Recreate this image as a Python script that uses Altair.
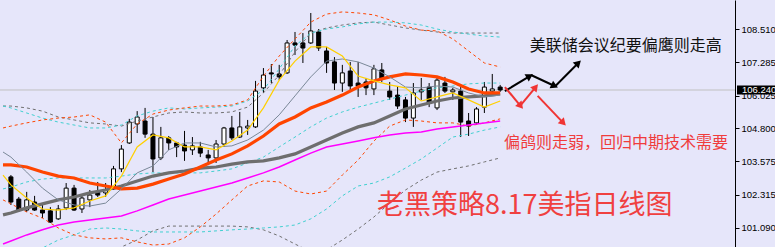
import math
import altair as alt
import pandas as pd

# ---------------- candles ----------------
opens = [102.99, 102.16, 101.75, 102.05, 101.75, 101.72, 101.42, 101.83, 102.57, 101.79,
         102.13, 102.43, 102.39, 102.54, 103.29, 104.26, 104.97, 105.08, 104.59, 103.70,
         104.45, 104.26, 104.18, 104.00, 104.11, 103.81, 103.70, 104.22, 104.82, 104.48,
         104.82, 104.86, 106.32, 106.88, 106.84, 106.88, 108.00, 108.00, 108.00, 108.41,
         107.70, 107.29, 106.50, 106.95, 106.50, 106.54, 106.28, 106.99, 106.20, 106.05,
         105.87, 105.19, 106.17, 106.35, 105.57, 106.50, 106.17, 106.20, 105.08, 105.01,
         105.60, 106.20, 106.35]
highs = [103.06, 102.24, 102.43, 102.28, 102.01, 101.86, 101.94, 102.76, 102.69, 102.28,
         102.50, 102.80, 102.76, 103.40, 104.18, 105.16, 105.45, 105.57, 105.23, 104.86,
         104.52, 104.30, 104.71, 104.48, 104.30, 104.00, 104.37, 104.86, 105.27, 105.42,
         105.12, 106.58, 107.06, 107.21, 107.18, 108.11, 108.41, 108.37, 109.12, 108.52,
         107.85, 107.47, 107.18, 107.29, 107.29, 106.69, 107.18, 107.25, 106.54, 106.39,
         105.98, 106.50, 106.69, 106.50, 106.73, 106.73, 106.32, 106.35, 105.38, 105.60,
         106.54, 106.84, 106.43]
lows = [101.94, 101.68, 101.68, 101.72, 101.45, 101.27, 101.38, 101.75, 101.72, 101.64,
        101.86, 102.24, 102.24, 102.50, 103.17, 104.22, 104.63, 104.45, 103.17, 103.62,
        104.00, 103.73, 103.59, 103.81, 103.73, 103.43, 103.51, 104.11, 104.37, 104.45,
        104.56, 104.82, 106.13, 106.50, 106.61, 106.84, 107.55, 107.25, 107.96, 107.70,
        106.88, 106.24, 106.17, 106.17, 105.98, 106.05, 106.05, 106.54, 105.87, 105.53,
        105.04, 104.86, 105.87, 105.60, 105.49, 106.13, 105.87, 104.48, 104.52, 104.93,
        105.38, 106.13, 106.17]
closes = [102.05, 101.75, 102.13, 101.75, 101.64, 101.30, 101.79, 102.57, 101.75, 102.20,
          102.31, 102.31, 102.50, 103.29, 104.03, 105.04, 105.23, 104.59, 103.66, 104.45,
          104.26, 104.11, 103.96, 104.15, 103.88, 103.70, 104.22, 104.82, 104.45, 104.86,
          104.89, 106.20, 106.80, 106.84, 106.73, 108.00, 107.92, 107.81, 108.45, 107.81,
          107.25, 106.50, 106.88, 106.39, 106.39, 106.32, 107.03, 106.65, 105.98, 105.64,
          105.19, 106.13, 106.24, 105.75, 106.61, 106.20, 106.24, 105.04, 104.89, 105.53,
          106.35, 106.28, 106.24]
bars = list(range(len(opens)))

# ---------------- indicator lines, read at every second bar ----------------
line_bars = [-1] + list(range(0, 63, 2))

ma5 = [103.06, 102.69, 102.20, 101.79, 101.75, 101.83, 102.09, 102.28, 103.02, 104.11,
       104.56, 104.45, 104.11, 104.11, 104.00, 104.33, 104.74, 105.57, 106.61, 107.32,
       107.85, 107.85, 107.51, 106.76, 106.58, 106.43, 106.32, 105.83, 105.98, 106.13,
       105.87, 105.60, 105.83]
ma10 = [103.92, 103.73, 103.17, 102.57, 102.13, 101.94, 101.90, 102.01, 102.54, 103.14,
        103.40, 104.00, 104.26, 104.26, 104.11, 104.15, 104.37, 104.74, 105.31, 106.02,
        106.73, 107.32, 107.40, 107.29, 107.06, 106.73, 106.35, 106.32, 106.39, 106.35,
        106.13, 105.98, 106.05]
ma20 = [103.44, 103.44, 103.36, 103.17, 103.02, 102.95, 102.76, 102.65, 102.54, 102.57,
        102.72, 102.91, 103.10, 103.36, 103.62, 103.85, 104.15, 104.52, 104.97, 105.23,
        105.57, 105.79, 106.05, 106.35, 106.58, 106.73, 106.84, 106.80, 106.73, 106.54,
        106.28, 106.13, 106.13]
ma_slow = [101.57, 101.64, 101.83, 101.98, 102.13, 102.24, 102.39, 102.50, 102.65, 102.84,
           103.02, 103.14, 103.21, 103.32, 103.36, 103.47, 103.55, 103.59, 103.70, 103.85,
           104.11, 104.37, 104.63, 104.86, 105.01, 105.27, 105.53, 105.68, 105.83, 105.94,
           105.98, 106.02, 106.09]
ma_long = [100.48, 100.59, 100.82, 101.01, 101.19, 101.30, 101.38, 101.45, 101.53, 101.72,
           101.94, 102.16, 102.31, 102.46, 102.61, 102.76, 102.95, 103.14, 103.36, 103.62,
           103.88, 104.11, 104.22, 104.33, 104.45, 104.56, 104.63, 104.67, 104.78, 104.86,
           104.93, 105.01, 105.08]
band_or_up = [104.82, 104.89, 105.01, 105.12, 105.19, 105.23, 105.31, 105.04, 104.26, 104.97,
              105.34, 105.49, 105.57, 105.64, 105.64, 105.68, 105.87, 106.76, 107.51, 108.15,
              108.78, 109.08, 109.16, 109.12, 109.05, 108.86, 108.63, 108.48, 108.45, 108.15,
              107.70, 107.25, 107.10]
band_or_lo = [102.13, 101.98, 101.68, 101.45, 101.08, 100.82, 100.71, 100.67, 100.71, 100.56,
              100.44, 100.48, 100.71, 101.12, 101.60, 102.13, 102.65, 102.84, 102.80, 102.46,
              102.35, 102.46, 103.06, 103.62, 104.33, 104.89, 105.12, 105.08, 105.01, 105.01,
              104.89, 105.01, 105.16]
band_cy_up = [105.64, 105.57, 105.38, 105.19, 105.04, 104.93, 104.82, 104.82, 104.93, 105.27,
              105.45, 105.57, 105.53, 105.57, 105.60, 105.64, 105.83, 106.24, 107.03, 107.89,
              108.37, 108.52, 108.60, 108.71, 108.78, 108.78, 108.75, 108.67, 108.52, 108.41,
              108.33, 108.26, 108.22]
band_cy_mid = [102.54, 102.61, 102.80, 102.91, 102.95, 102.95, 102.95, 102.95, 103.02, 103.10,
               103.14, 103.14, 103.14, 103.14, 103.21, 103.29, 103.51, 103.73, 104.11, 104.48,
               104.86, 105.19, 105.42, 105.60, 105.75, 105.90, 106.05, 106.20, 106.32, 106.39,
               106.47, 106.50, 106.50]
band_cy_lo = [99.43, 99.66, 100.07, 100.33, 100.63, 100.82, 101.04, 101.08, 101.04, 100.97,
              100.93, 100.93, 100.93, 100.93, 100.97, 101.01, 101.04, 101.08, 101.12, 101.19,
              101.42, 101.79, 102.28, 102.65, 102.76, 102.99, 103.32, 103.66, 104.07, 104.48,
              104.59, 104.74, 104.86]
band_gr_up = [105.64, 105.64, 105.57, 105.45, 105.23, 105.12, 105.01, 104.97, 104.89, 105.08,
              105.23, 105.38, 105.42, 105.38, 105.38, 105.42, 105.60, 106.13, 106.80, 107.66,
              108.37, 108.56, 108.67, 108.75, 108.78, 108.67, 108.56, 108.48, 108.41, 108.37,
              108.37, 108.37, 108.37]
band_gr_lo = [97.49, 97.64, 98.09, 98.50, 99.02, 99.36, 99.77, 100.03, 100.37, 100.63,
              100.97, 101.15, 101.15, 101.15, 101.15, 101.15, 101.12, 101.01, 100.78, 100.48,
              100.18, 100.26, 100.63, 101.04, 101.49, 102.01, 102.50, 102.87, 103.17, 103.29,
              103.40, 103.55, 103.70]

last_price = [106.24]
tick_values = [108.510, 107.285, 106.025, 104.800, 103.575, 102.315, 101.090]

# ---------------- annotations ----------------
arrow_x0 = [62.6, 65.9, 69.0, 62.6, 64.5, 66.75]
arrow_y0 = [106.20, 106.80, 106.39, 106.35, 105.64, 106.02]
arrow_x1 = [65.75, 68.9, 71.9, 64.6, 66.5, 70.0]
arrow_y1 = [106.76, 106.39, 107.25, 105.64, 106.35, 105.01]
arrow_kind = ["up", "up", "up", "down", "down", "down"]

notes = ["美联储会议纪要偏鹰则走高", "偏鸽则走弱，回归中期技术需要", "老黑策略8.17美指日线图"]
note_x = [65.75, 62.5, 46.4]
note_y = [107.88, 104.24, 101.92]

# ---------------- chart ----------------
W, H = 735, 247
X_DOMAIN = [-0.75, 91.125]
Y_DOMAIN = [100.368, 109.606]
PX_PER_BAR = W / (X_DOMAIN[1] - X_DOMAIN[0])
PX_PER_PRICE = H / (Y_DOMAIN[1] - Y_DOMAIN[0])

xs = alt.Scale(domain=X_DOMAIN, nice=False, zero=False)
ys = alt.Scale(domain=Y_DOMAIN, nice=False, zero=False)
YAX = alt.Axis(orient="right", values=tick_values, format=".3f", grid=False,
               domainColor="black", tickColor="black", tickSize=4,
               labelFont="Liberation Sans", labelFontSize=9.5, labelColor="black",
               labelPadding=2, title=None)
CJK = "Noto Sans CJK SC"


def X(field):
    return alt.X(field, scale=xs, axis=None)


def Y(field):
    return alt.Y(field, scale=ys, axis=YAX)


candles = pd.DataFrame(dict(bar=bars, open=opens, high=highs, low=lows, close=closes))
candles["up"] = candles["close"] >= candles["open"]

price_df = pd.DataFrame({"p": last_price})
price_line = alt.Chart(price_df).mark_rule(color="#c0c0c0", strokeWidth=1).encode(y=Y("p:Q"))

wick = alt.Chart(candles).mark_rule(color="black", strokeWidth=1, clip=True).encode(
    x=X("bar:Q"), y=Y("low:Q"), y2="high:Q",
)
body = alt.Chart(candles).mark_bar(size=4, stroke="black", strokeWidth=1, clip=True).encode(
    x=X("bar:Q"), y=Y("open:Q"), y2="close:Q",
    fill=alt.condition("datum.up", alt.value("white"), alt.value("black")),
)


def line_layer(vals, color, width, dash=None):
    df = pd.DataFrame({"bar": line_bars, "v": vals})
    kw = dict(color=color, strokeWidth=width, clip=True)
    if dash:
        kw["strokeDash"] = dash
    return alt.Chart(df).mark_line(**kw).encode(x=X("bar:Q"), y=Y("v:Q"))


lines = [
    line_layer(band_gr_up, "#707070", 1, [3, 3]),
    line_layer(band_gr_lo, "#707070", 1, [3, 3]),
    line_layer(band_cy_up, "#40d0d0", 1, [3, 3]),
    line_layer(band_cy_mid, "#40d0d0", 1, [3, 3]),
    line_layer(band_cy_lo, "#40d0d0", 1, [3, 3]),
    line_layer(band_or_up, "#ff4500", 1, [3, 3]),
    line_layer(band_or_lo, "#ff4500", 1, [3, 3]),
    line_layer(ma_long, "#ff00ff", 1.5),
    line_layer(ma_slow, "#6e6e6e", 3.2),
    line_layer(ma20, "#ff4500", 3.2),
    line_layer(ma10, "#7a8898", 1),
    line_layer(ma5, "#ffd000", 1.2),
]

arrows = pd.DataFrame(dict(x0=arrow_x0, y0=arrow_y0, x1=arrow_x1, y1=arrow_y1, kind=arrow_kind))
arrows["angle"] = [
    math.degrees(math.atan2(-(b1 - b0) * PX_PER_PRICE, (a1 - a0) * PX_PER_BAR)) % 360
    for a0, b0, a1, b1 in zip(arrow_x0, arrow_y0, arrow_x1, arrow_y1)
]
arrow_color = alt.Color("kind:N", scale=alt.Scale(domain=["up", "down"], range=["#000000", "#f03434"]),
                        legend=None)
shafts = alt.Chart(arrows).mark_rule(strokeWidth=2).encode(
    x=X("x0:Q"), y=Y("y0:Q"), x2="x1:Q", y2="y1:Q", color=arrow_color,
)
heads = alt.Chart(arrows).mark_point(shape="triangle-right", filled=True, size=70, opacity=1).encode(
    x=X("x1:Q"), y=Y("y1:Q"), angle=alt.Angle("angle:Q", scale=None), color=arrow_color,
)

note_df = pd.DataFrame(dict(t=notes, x=note_x, y=note_y, k=["a", "b", "c"]))


def note_layer(key, size, color):
    return alt.Chart(note_df[note_df.k == key]).mark_text(
        align="left", baseline="middle", font=CJK, fontSize=size, color=color
    ).encode(x=X("x:Q"), y=Y("y:Q"), text="t:N")


note1 = note_layer("a", 16, "#111111")
note2 = note_layer("b", 16, "#f03c3c")
note3 = note_layer("c", 27, "#f04040")

label_df = pd.DataFrame({"p": last_price, "hi": [last_price[0] + 0.17], "lo": [last_price[0] - 0.17],
                         "t": [f"{last_price[0]:.3f}"]})
label_box = alt.Chart(label_df).mark_rect(color="black", clip=False).encode(
    x=alt.value(737), x2=alt.value(775), y=Y("hi:Q"), y2="lo:Q",
)
label_txt = alt.Chart(label_df).mark_text(
    align="left", baseline="middle", font="Liberation Sans", fontSize=9.5, color="white"
).encode(x=alt.value(742), y=Y("p:Q"), text="t:N")

chart = alt.layer(
    price_line, wick, body, *lines, shafts, heads, note1, note2, note3, label_box, label_txt
).properties(
    width=W, height=H,
    padding={"left": 0, "top": 0, "right": 40, "bottom": 0},
    autosize=alt.AutoSizeParams(type="none"),
    background="#e6e6fa",
).configure_view(stroke=None)

chart.save("out.html", embed_options={"renderer": "svg", "actions": False})
